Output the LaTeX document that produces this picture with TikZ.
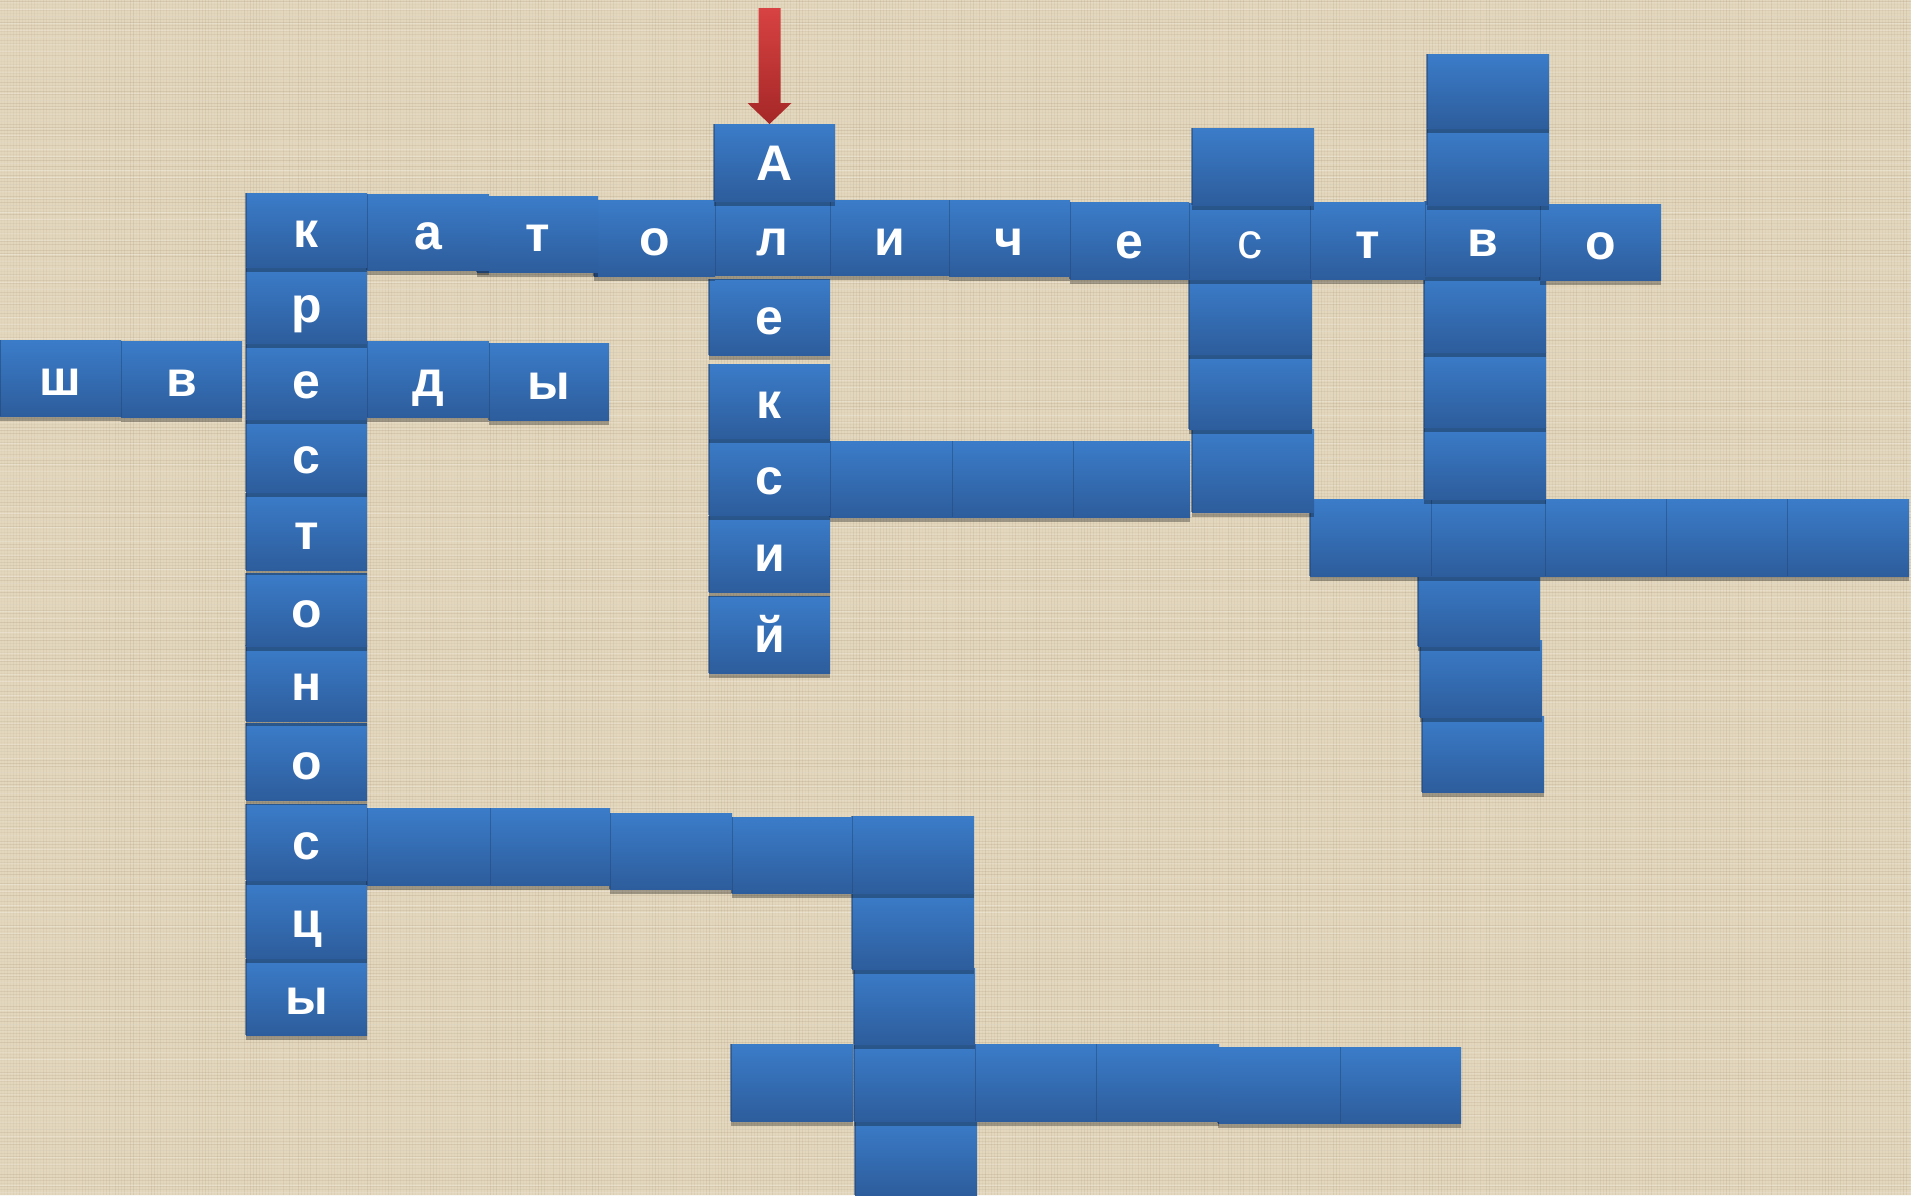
\documentclass[tikz,border=0pt]{standalone}
\usepackage{fontspec}
\setmainfont{Liberation Sans}
\usetikzlibrary{shadows}
\definecolor{bgc}{HTML}{E3D7BE}
\definecolor{bgl}{HTML}{8F7D5C}
\definecolor{tiletop}{HTML}{3B7CC9}
\definecolor{tilebot}{HTML}{2D5D9C}
\definecolor{arrtop}{HTML}{D84242}
\definecolor{arrbot}{HTML}{A52727}
\tikzset{
  tilebox/.style={rectangle, inner sep=0pt, outer sep=0pt, top color=tiletop, bottom color=tilebot,
    drop shadow={shadow xshift=0pt, shadow yshift=-2.5pt, opacity=0.3, fill=black},
    text=white, font=\bfseries\fontsize{25}{25}\selectfont, text height=17.9pt, text depth=0pt},
  seam/.style={draw=tilebot!75!black, line width=0.6pt, opacity=0.55},
  bgline/.style={draw=bgl, line width=0.5pt},
  arrowshape/.style={top color=arrtop, bottom color=arrbot, draw=none}
}
\newcommand\tile[6]{%
  \pgfmathsetmacro\tw{(#4-#2)*0.5}%
  \pgfmathsetmacro\th{(#5-#3)*0.5}%
  \node[tilebox, minimum width=\tw pt, minimum height=\th pt] (#1) at ({(#2+#4)/2},{(#3+#5)/2}) {#6};
  \draw[seam] (#1.north west) -- (#1.south west);}
\begin{document}
\begin{tikzpicture}[x=0.5pt, y=-0.5pt]
\useasboundingbox (0,0) rectangle (1911,1195);
\fill[bgc] (0,0) rectangle (1911,1195);
\pgfmathsetseed{7}
\foreach \yy in {1,4,...,1195}{\pgfmathsetmacro\op{0.02+0.16*rnd}\draw[bgline, opacity=\op] (0,\yy) -- (1911,\yy);}
\foreach \xx in {1,4,...,1911}{\pgfmathsetmacro\op{0.02+0.13*rnd}\draw[bgline, opacity=\op] (\xx,0) -- (\xx,1195);}
\foreach \yy in {2,9,...,1195}{\pgfmathsetmacro\op{0.05+0.2*rnd}\draw[draw=white, line width=0.5pt, opacity=\op] (0,\yy) -- (1911,\yy);}
% tiles, drawn from bottom to top
\tile{lc5}{855}{1120}{977}{1195}{}
\tile{bl6}{1340}{1047}{1461}{1123}{}
\tile{bl5}{1218}{1047}{1340}{1123}{}
\tile{bl4}{1096}{1044}{1219}{1121}{}
\tile{bl3}{975}{1044}{1096}{1121}{}
\tile{lc4}{854}{1044}{975}{1121}{}
\tile{bl1}{731}{1044}{853}{1121}{}
\tile{lc3}{854}{968}{975}{1044}{}
\tile{kr11}{246}{959}{367}{1035}{ы}
\tile{lc2}{852}{893}{974}{969}{}
\tile{kr10}{246}{881}{367}{958}{ц}
\tile{lc1}{852}{816}{974}{893}{}
\tile{lr4}{732}{817}{852}{893}{}
\tile{lr3}{610}{813}{732}{889}{}
\tile{lr2}{490}{808}{610}{885}{}
\tile{lr1}{367}{808}{490}{885}{}
\tile{kr9}{246}{804}{367}{880}{с}
\tile{kr8}{246}{723}{367}{800}{о}
\tile{c2i}{1422}{716}{1544}{792}{}
\tile{kr7}{246}{645}{367}{721}{н}
\tile{c2h}{1420}{640}{1542}{717}{}
\tile{al6}{709}{596}{830}{673}{й}
\tile{kr6}{246}{573}{367}{646}{о}
\tile{c2g}{1418}{570}{1540}{646}{}
\tile{al5}{709}{516}{830}{592}{и}
\tile{br5}{1787}{499}{1909}{576}{}
\tile{br4}{1666}{499}{1787}{576}{}
\tile{br3}{1545}{499}{1666}{576}{}
\tile{c2f}{1431}{499}{1545}{576}{}
\tile{br1}{1310}{499}{1431}{576}{}
\tile{kr5}{246}{493}{367}{570}{т}
\tile{ar3}{1073}{441}{1190}{517}{}
\tile{ar2}{952}{441}{1073}{517}{}
\tile{ar1}{830}{441}{952}{517}{}
\tile{al4}{709}{438}{830}{515}{с}
\tile{c2e}{1424}{427}{1546}{499}{}
\tile{c1d}{1192}{429}{1314}{512}{}
\tile{kr4}{246}{419}{367}{492}{с}
\tile{al3}{709}{364}{830}{438}{к}
\tile{c2d}{1424}{352}{1546}{427}{}
\tile{c1c}{1189}{354}{1312}{429}{}
\tile{sy}{489}{343}{609}{420}{ы}
\tile{sd}{367}{341}{489}{417}{д}
\tile{kr3}{246}{343}{367}{419}{е}
\tile{sv}{121}{341}{242}{417}{в}
\tile{sh}{0}{340}{121}{416}{ш}
\tile{c2c}{1424}{275}{1546}{352}{}
\tile{c1b}{1189}{279}{1312}{354}{}
\tile{al2}{709}{279}{830}{355}{е}
\tile{kr2}{246}{267}{367}{343}{р}
\tile{r1o2}{1540}{204}{1661}{280}{о}
\tile{r1v}{1425}{201}{1540}{276}{в}
\tile{r1t2}{1310}{202}{1425}{279}{т}
\tile{r1s}{1189}{203}{1310}{279}{\mdseries с}
\tile{r1e}{1070}{202}{1189}{279}{е}
\tile{r1ch}{949}{200}{1070}{276}{ч}
\tile{r1i}{830}{200}{949}{275}{и}
\tile{r1l}{715}{201}{830}{275}{л}
\tile{r1o}{594}{200}{715}{276}{о}
\tile{r1t}{477}{196}{598}{272}{т}
\tile{r1a}{367}{194}{489}{270}{а}
\tile{r1k}{246}{193}{367}{267}{к}
\tile{A}{714}{124}{835}{201}{А}
\tile{c1a}{1192}{128}{1314}{205}{}
\tile{c2b}{1427}{128}{1549}{205}{}
\tile{c2a}{1427}{54}{1549}{128}{}
% red arrow pointing at the first letter
\coordinate (tip) at ([xshift=-2.5pt]A.north);
\path[arrowshape] (tip) -- ++(-22,-21) -- ++(11,0) -- ++(0,-95) -- ++(22,0) -- ++(0,95) -- ++(11,0) -- cycle;
\end{tikzpicture}
\end{document}
